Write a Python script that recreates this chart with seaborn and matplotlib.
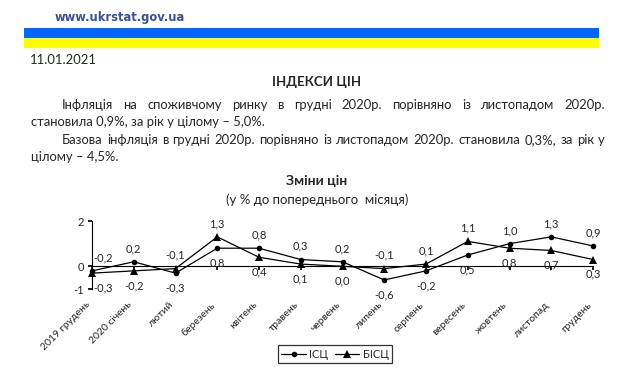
import numpy as np
import pandas as pd
import matplotlib.pyplot as plt
from matplotlib.patches import Rectangle
from matplotlib.lines import Line2D
import seaborn as sns

#%% Daten

months = ["2019 грудень", "2020 січень", "лютий", "березень", "квітень", "травень",
          "червень", "липень", "серпень", "вересень", "жовтень", "листопад", "грудень"]
cpi = [-0.2, 0.2, -0.3, 0.8, 0.8, 0.3, 0.2, -0.6, -0.2, 0.5, 1.0, 1.3, 0.9]
core = [-0.3, -0.2, -0.1, 1.3, 0.4, 0.1, 0.0, -0.1, 0.1, 1.1, 0.8, 0.7, 0.3]
series_names = ["ІСЦ", "БІСЦ"]
yticks = [-1, 0, 2]

line1 = "Інфляція на споживчому ринку в грудні 2020р. порівняно із листопадом 2020р."
line2 = "становила 0,9%, за рік у цілому – 5,0%."
line3 = "Базова інфляція в грудні 2020р. порівняно із листопадом 2020р. становила 0,3%, за рік у"
line4 = "цілому – 4,5%."

#%% Setup

W, H = 624, 374
sns.set_theme(style="white")
plt.rcParams['font.family'] = ['Lato', 'DejaVu Sans']

def fx(x):
    return x / W

def fy(y):
    return 1 - y / H

fig = plt.figure(figsize=(W / 100, H / 100), dpi=100)

# Kopfzeile mit Flagge
fig.text(fx(55), fy(17), "www.ukrstat.gov.ua", family='DejaVu Sans', fontweight='bold',
         fontsize=8.3, color='#3b5290', va='center')
fig.patches.append(Rectangle((fx(24), fy(38)), fx(599 - 24), 10 / H, transform=fig.transFigure,
                             color='#0066ff', lw=0))
fig.patches.append(Rectangle((fx(24), fy(48)), fx(599 - 24), 10 / H, transform=fig.transFigure,
                             color='#ffff00', lw=0))

body = 9.4
fig.text(fx(30), fy(60), "11.01.2021", fontsize=body, va='center')
fig.text(fx(317), fy(82), "ІНДЕКСИ ЦІН", fontsize=9.5, fontweight='bold', ha='center', va='center')

renderer = fig.canvas.get_renderer()

def justify(text, x0, x1, y, **kw):
    words = text.split()
    ts = [fig.text(0, fy(y), w, va='center', **kw) for w in words]
    ws = [t.get_window_extent(renderer).width for t in ts]
    gap = (x1 - x0 - sum(ws)) / (len(words) - 1)
    x = x0
    for t, w in zip(ts, ws):
        t.set_x(fx(x))
        x += w + gap

justify(line1, 62, 605, 105, fontsize=body)
fig.text(fx(31), fy(122), line2, fontsize=body, va='center')
justify(line3, 62, 605, 140, fontsize=body)
fig.text(fx(31), fy(157), line4, fontsize=body, va='center')

fig.text(fx(317), fy(181), "Зміни цін", fontsize=10, fontweight='bold', ha='center', va='center')
fig.text(fx(317), fy(200), "(у % до попереднього  місяця)", fontsize=9.5, ha='center', va='center')

#%% Diagramm

ax = fig.add_axes([fx(92), fy(289), fx(593 - 92), (289 - 221) / H])

df = pd.DataFrame({
    'pos': list(range(len(months))) * 2,
    'value': cpi + core,
    'series': [series_names[0]] * len(months) + [series_names[1]] * len(months),
})
markers = {series_names[0]: 'o', series_names[1]: '^'}
sizes = {series_names[0]: 4, series_names[1]: 5.5}
for name in series_names:
    sns.lineplot(data=df[df['series'] == name], x='pos', y='value', color='black', lw=0.9,
                 marker=markers[name], markersize=sizes[name], markeredgewidth=0,
                 ax=ax, clip_on=False, legend=False)

ax.set_xlim(0, len(months) - 1)
ax.set_ylim(-1, 2)
ax.set_xlabel("")
ax.set_ylabel("")
ax.set_xticks(range(len(months)))
ax.set_yticks(yticks)
ax.set_yticklabels([str(v) for v in yticks])
ax.spines['top'].set_visible(False)
ax.spines['right'].set_visible(False)
ax.spines['bottom'].set_position(('data', 0))
for s in ['left', 'bottom']:
    ax.spines[s].set_color('black')
    ax.spines[s].set_linewidth(0.8)
ax.tick_params(axis='x', direction='out', length=3, color='black', labelbottom=False, bottom=True)
ax.tick_params(axis='y', direction='out', length=3, color='black', labelsize=8, pad=3, left=True)
ax.patch.set_alpha(0)

# Datenbeschriftungen
fmt = lambda v: f"{v:.1f}".replace('.', ',')
for i in range(len(months)):
    hi, lo = max(cpi[i], core[i]), min(cpi[i], core[i])
    dx = 8 if i == 0 else 0
    ax.annotate(fmt(hi), (i, hi), xytext=(dx, 9.5), textcoords='offset points',
                ha='center', va='center', fontsize=8, annotation_clip=False)
    ax.annotate(fmt(lo), (i, lo), xytext=(dx, -10.5), textcoords='offset points',
                ha='center', va='center', fontsize=8, annotation_clip=False)

# Kategorien
for i, m in enumerate(months):
    ax.annotate(m, (i, 0), xycoords=('data', 'axes fraction'), xytext=(0, -8),
                textcoords='offset points', rotation=45, ha='right', va='top',
                fontsize=7.5, annotation_clip=False)

handles = [Line2D([], [], color='black', lw=0.9, marker=markers[n], markersize=sizes[n],
                  markeredgewidth=0) for n in series_names]
leg = ax.legend(handles, series_names, loc='center', bbox_to_anchor=(fx(335), fy(354)),
                bbox_transform=fig.transFigure, ncol=2, fontsize=8, frameon=True,
                fancybox=False, edgecolor='black', handlelength=2.2, handletextpad=0.3,
                columnspacing=0.6, borderpad=0.35)
leg.get_frame().set_linewidth(0.9)

fig.savefig('out.png', dpi=100)
